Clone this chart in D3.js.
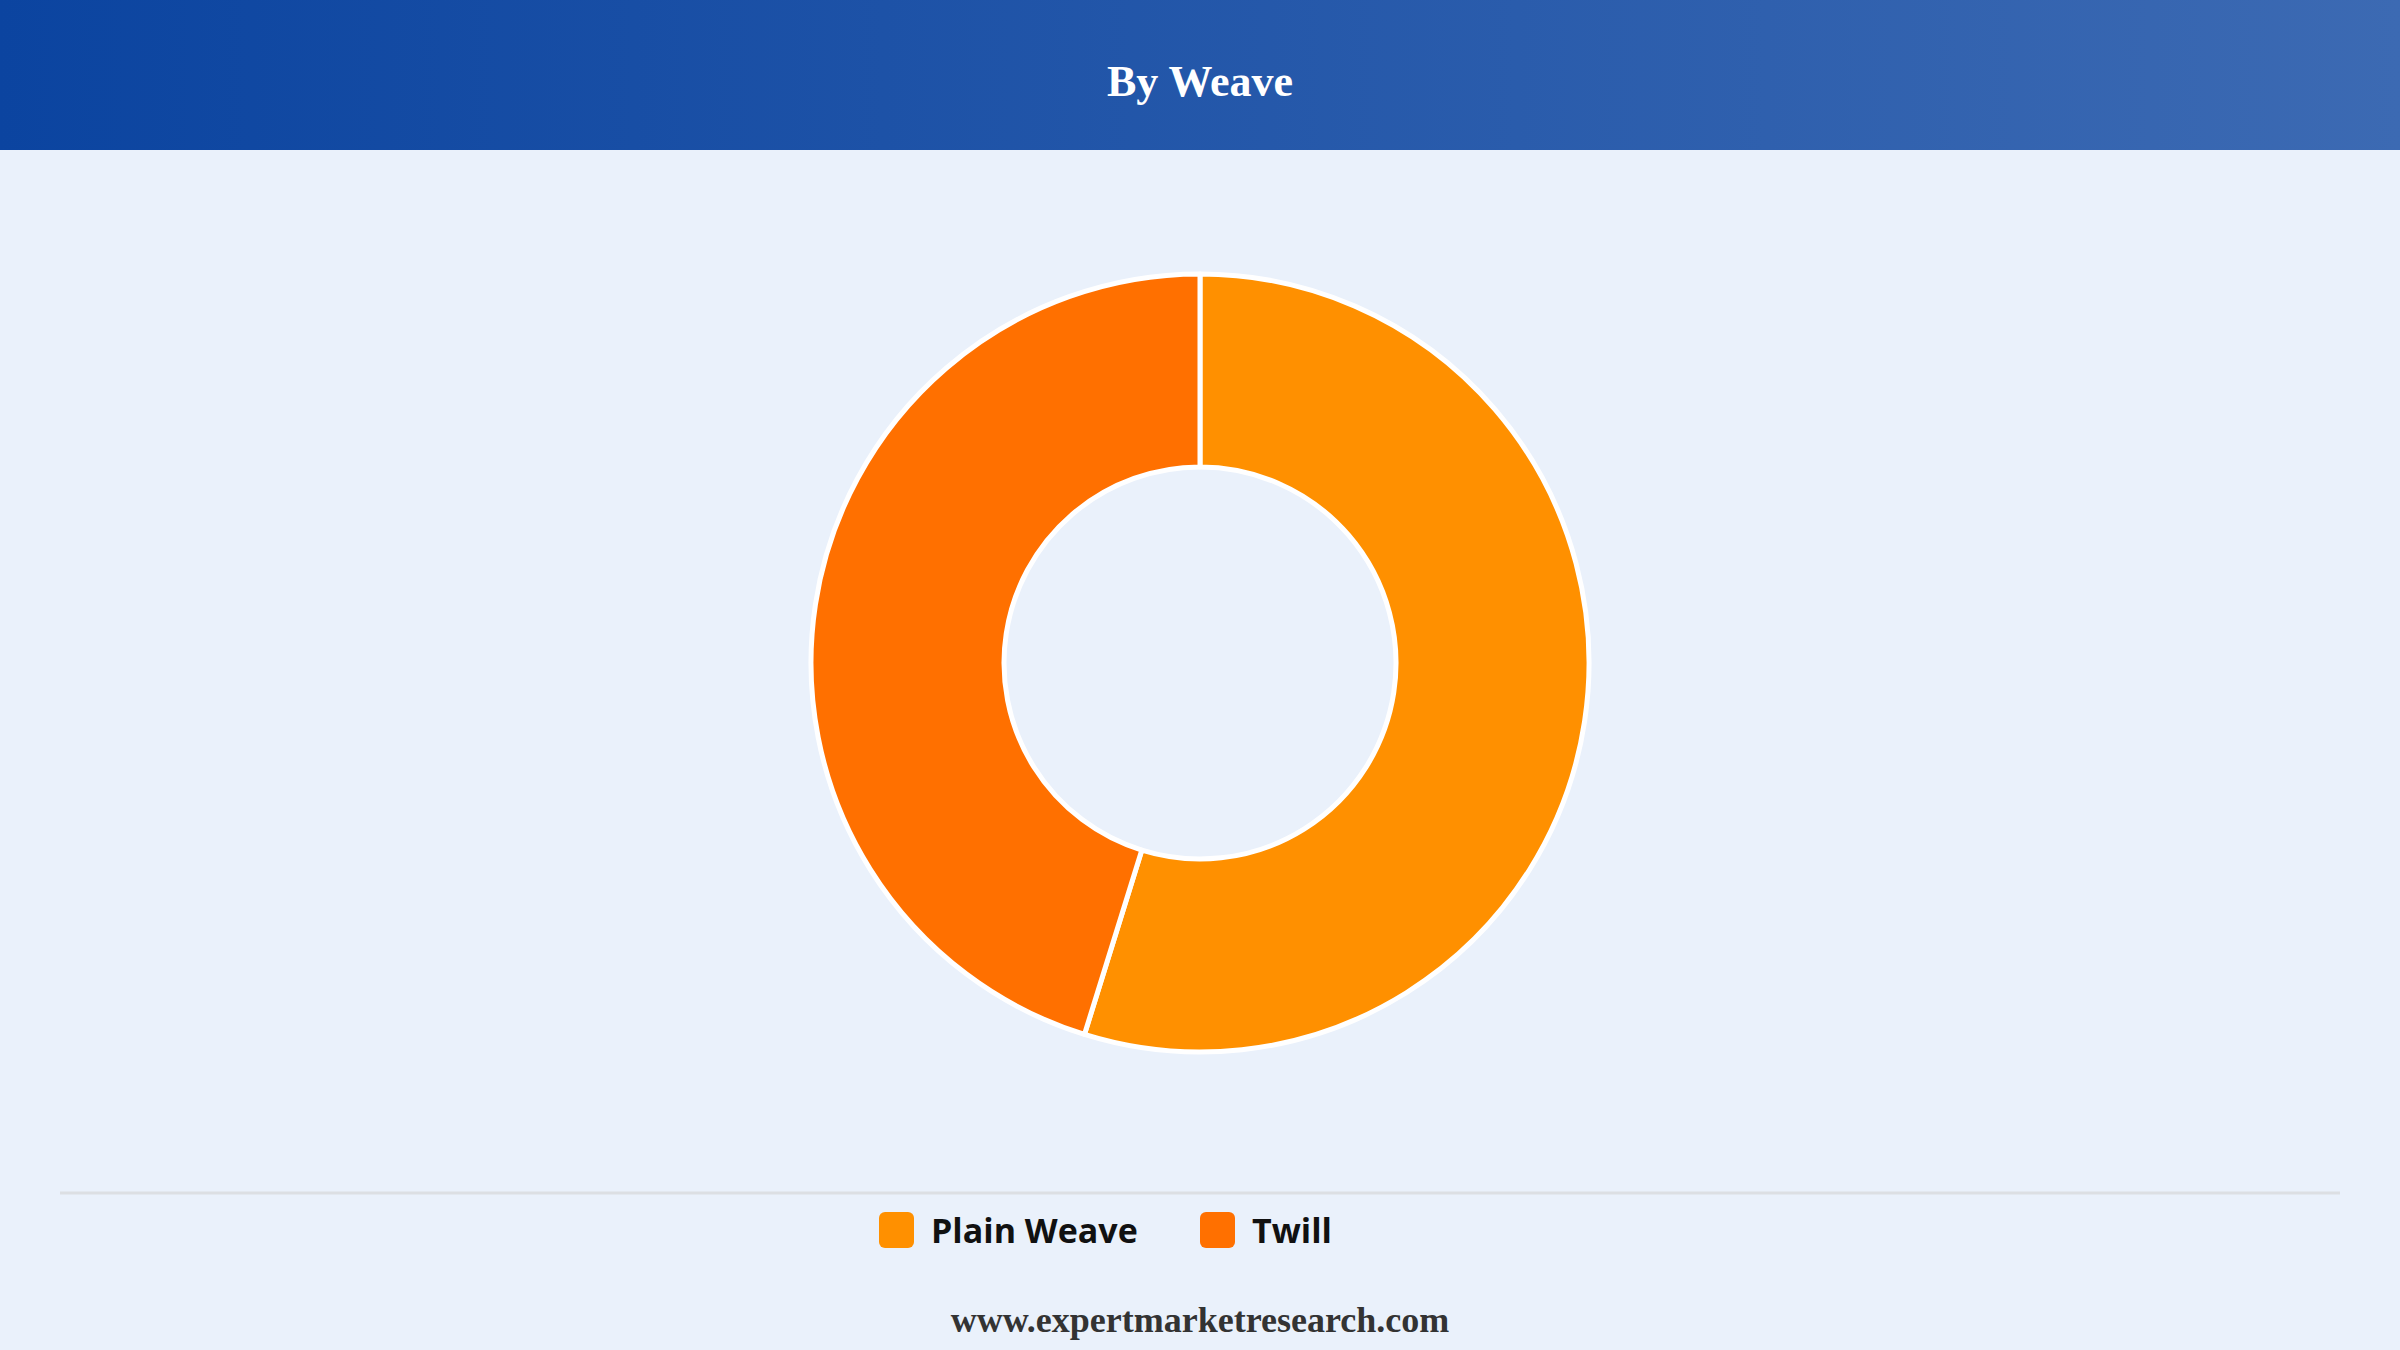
<!DOCTYPE html>
<html>
<head>
<meta charset="utf-8">
<script src="https://cdn.jsdelivr.net/npm/d3@7"></script>
<style>
  html, body { margin: 0; padding: 0; background: #eaf1fb; }
  svg { display: block; }
</style>
</head>
<body>
<div class="chart"></div>
<script>
const categories = ["Plain Weave", "Twill"];
const shares = [54.8, 45.2];
const colors = ["#ff9000", "#ff7000"];

const width = 2400, height = 1350;
const cx = 1200, cy = 663;
const outerR = 389, innerR = 196;

const svg = d3.select(".chart").append("svg")
    .attr("width", width)
    .attr("height", height)
    .attr("viewBox", [0, 0, width, height]);

// header band
const grad = svg.append("defs").append("linearGradient")
    .attr("id", "hdr").attr("x1", "0%").attr("x2", "100%");
grad.append("stop").attr("offset", "0%").attr("stop-color", "#0b44a0");
grad.append("stop").attr("offset", "100%").attr("stop-color", "#3c6ab3");

svg.append("rect").attr("width", width).attr("height", height).attr("fill", "#eaf1fb");
svg.append("rect").attr("width", width).attr("height", 150).attr("fill", "url(#hdr)");
svg.append("text")
    .attr("x", cx).attr("y", 96)
    .attr("text-anchor", "middle")
    .attr("font-family", "'Liberation Serif', 'Times New Roman', serif")
    .attr("font-weight", "bold")
    .attr("font-size", 44)
    .attr("fill", "#ffffff")
    .text("By Weave");

// donut
const data = categories.map((c, i) => ({name: c, value: shares[i], color: colors[i]}));
const pie = d3.pie().value(d => d.value).sort(null);
const arc = d3.arc().innerRadius(innerR).outerRadius(outerR);

svg.append("g")
    .attr("transform", `translate(${cx},${cy})`)
  .selectAll("path")
  .data(pie(data))
  .enter().append("path")
    .attr("d", arc)
    .attr("fill", d => d.data.color)
    .attr("stroke", "#ffffff")
    .attr("stroke-width", 5)
    .attr("stroke-linejoin", "round");

// separator
svg.append("line")
    .attr("x1", 60).attr("x2", 2340)
    .attr("y1", 1193).attr("y2", 1193)
    .attr("stroke", "#dcdfe3").attr("stroke-width", 3);

// legend
const legendX = d3.scaleOrdinal().domain(categories).range([879, 1200]);
const legend = svg.selectAll(".leg")
    .data(data)
    .enter().append("g")
    .attr("class", "leg")
    .attr("transform", d => `translate(${legendX(d.name)},1212)`);

legend.append("rect")
    .attr("width", 35).attr("height", 36)
    .attr("rx", 6)
    .attr("fill", d => d.color);

legend.append("text")
    .attr("x", 52).attr("y", 18)
    .attr("dominant-baseline", "central")
    .attr("font-family", "'Open Sans', 'Noto Sans', sans-serif")
    .attr("font-weight", "bold")
    .attr("font-size", 34)
    .attr("fill", "#111111")
    .text(d => d.name);

// footer
svg.append("text")
    .attr("x", cx).attr("y", 1332)
    .attr("text-anchor", "middle")
    .attr("font-family", "'Liberation Serif', 'Times New Roman', serif")
    .attr("font-weight", "bold")
    .attr("font-size", 36)
    .attr("fill", "#333333")
    .text("www.expertmarketresearch.com");
</script>
</body>
</html>
